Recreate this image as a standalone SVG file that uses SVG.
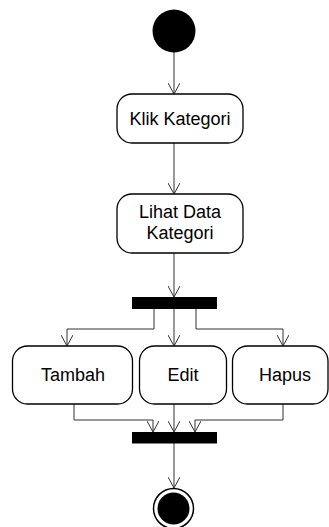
<svg xmlns="http://www.w3.org/2000/svg" width="329" height="527" viewBox="0 0 329 527">
<style>
.box{fill:#fff;stroke:#000;stroke-width:1.3}
.lbl{font-family:"Liberation Sans",Arial,sans-serif;font-size:18px;fill:#000;text-anchor:middle}
.edge{fill:none;stroke:#333;stroke-width:1;marker-end:url(#arr)}
.bar{fill:#000}
</style>
<defs>
<marker id="arr" viewBox="0 0 12 12" refX="11" refY="6" markerWidth="12" markerHeight="12" markerUnits="userSpaceOnUse" orient="auto">
<path d="M0,0 L11,6 L0,12" fill="none" stroke="#333" stroke-width="1"/>
</marker>
</defs>
<rect width="329" height="527" fill="#fff"/>
<g id="connectors">
<path class="edge" d="M174,52 L174,94"/>
<path class="edge" d="M174,143 L174,194"/>
<path class="edge" d="M174,253 L174,297"/>
<path class="edge" d="M154,309 L154,329 L67,329 L67,346"/>
<path class="edge" d="M174,309 L174,346"/>
<path class="edge" d="M196,309 L196,329 L283,329 L283,346"/>
<path class="edge" d="M74,404 L74,420 L153,420 L153,432"/>
<path class="edge" d="M174,404 L174,432"/>
<path class="edge" d="M283,404 L283,420 L195,420 L195,432"/>
<path class="edge" d="M174,443 L174,488"/>
</g>
<g id="start"><circle cx="174" cy="31" r="21.5" fill="#000"/></g>
<g id="klik"><rect class="box" x="117" y="94" width="126" height="49" rx="15"/><text class="lbl" x="180" y="125">Klik Kategori</text></g>
<g id="lihat"><rect class="box" x="117" y="194" width="126" height="59" rx="15"/><text class="lbl" x="180" y="218">Lihat Data</text><text class="lbl" x="180" y="239">Kategori</text></g>
<g id="fork"><rect class="bar" x="132" y="297" width="85" height="12"/></g>
<g id="tambah"><rect class="box" x="12.5" y="346" width="120" height="58" rx="15"/><text class="lbl" x="73" y="381">Tambah</text></g>
<g id="edit"><rect class="box" x="139.5" y="346" width="87" height="58" rx="15"/><text class="lbl" x="183" y="381">Edit</text></g>
<g id="hapus"><rect class="box" x="232.5" y="346" width="95.5" height="58" rx="15"/><text class="lbl" x="285" y="381">Hapus</text></g>
<g id="join"><rect class="bar" x="132" y="432" width="85" height="11.5"/></g>
<g id="end"><circle cx="173.5" cy="508.5" r="20" fill="#fff" stroke="#000" stroke-width="1.5"/><circle cx="173.5" cy="508.5" r="16" fill="#000"/></g>
</svg>
